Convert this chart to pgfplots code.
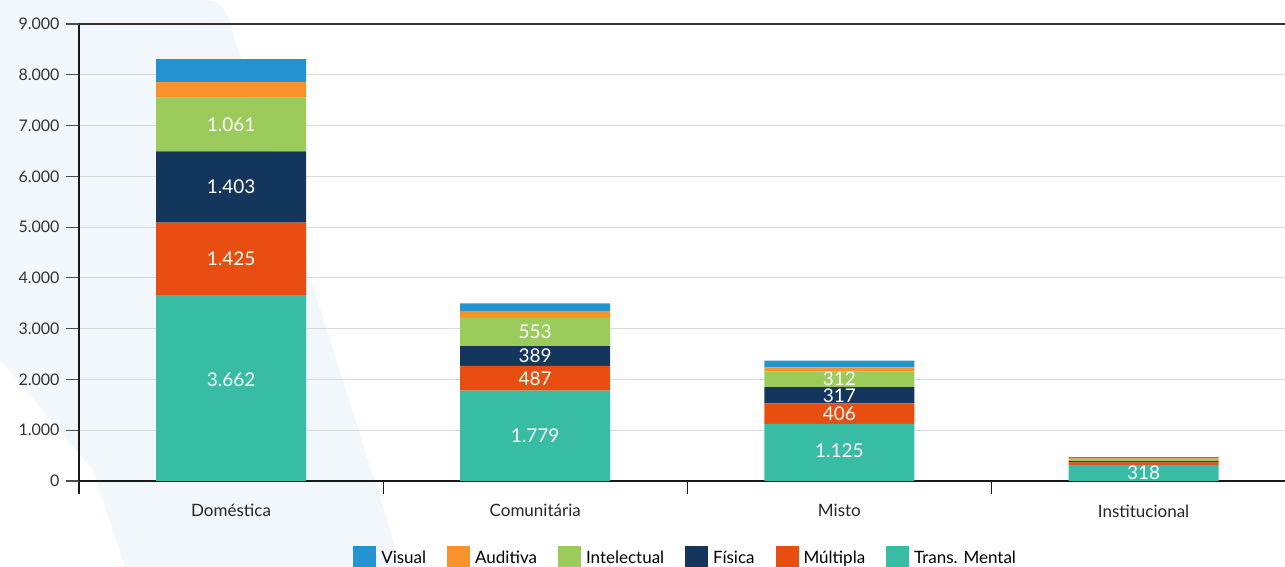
\documentclass[border=0pt]{standalone}
\usepackage{fontspec}
\setmainfont{Lato}
\usepackage{pgfplots}
\pgfplotsset{compat=1.18}
\definecolor{cVis}{HTML}{2394CF}
\definecolor{cAud}{HTML}{F7932A}
\definecolor{cInt}{HTML}{9BCB5A}
\definecolor{cFis}{HTML}{14365C}
\definecolor{cMul}{HTML}{E84E10}
\definecolor{cTM}{HTML}{38BDA4}
\definecolor{band}{HTML}{F2F7FC}
\definecolor{txt}{HTML}{333333}
\pgfplotsset{
  mylegend/.style={legend image code/.code={\fill[##1] (0pt,-10pt) rectangle (23pt,12pt);}},
}
\begin{document}
\begin{tikzpicture}
\useasboundingbox (-79pt,-86pt) rectangle (1206pt,481pt);
\fill[band] (-79pt,481pt) -- (126pt,481pt) .. controls (146pt,481pt) and (152pt,460pt) .. (156pt,441pt)
  -- (323pt,-86pt) -- (46pt,-86pt) -- (14pt,11pt) -- (-79pt,121pt) -- cycle;
\begin{axis}[
  at={(0,0)}, anchor=south west,
  scale only axis, width=1206pt, height=457pt,
  xmin=-0.5, xmax=3.465, ymin=0, ymax=9000,
  ybar stacked, bar width=150pt,
  axis x line*=bottom, axis y line*=left,
  axis line style={line width=1.5pt, color=black!90},
  scaled y ticks=false,
  /pgf/number format/1000 sep={.},
  /pgf/number format/assume math mode=true,
  ytick={0,1000,...,8000},
  extra y ticks={9000},
  extra y tick style={grid style={color=black!80, line width=1.5pt}},
  ymajorgrids, grid style={color=black!15, line width=1pt},
  tick align=outside, major tick length=13pt,
  ytick style={color=black!70, line width=1.2pt},
  yticklabel style={font=\fontsize{16}{19}\selectfont, text=txt, xshift=-3pt},
  xtick={-0.5,0.5,1.5,2.5}, xticklabels={},
  xtick style={color=black!90, line width=1.2pt},
  extra x ticks={0,1,2,3},
  extra x tick labels={Doméstica,Comunitária,Misto,Institucional},
  extra x tick style={major tick length=0pt},
  xticklabel style={font=\fontsize{17}{20}\selectfont, text=black!85, yshift=-20pt},
  legend style={at={(0.503,-0.166)}, anchor=center, draw=none, fill=none,
    legend columns=-1, font=\fontsize{17}{20}\selectfont,
    /tikz/every odd column/.append style={column sep=3pt},
    /tikz/every even column/.append style={column sep=19pt}},
  reverse legend,
]
\addplot[fill=cTM, draw=none, mylegend] coordinates {(0,3662) (1,1779) (2,1125) (3,318)};
\addplot[fill=cMul, draw=none, mylegend] coordinates {(0,1425) (1,487) (2,406) (3,50)};
\addplot[fill=cFis, draw=none, mylegend] coordinates {(0,1403) (1,389) (2,317) (3,25)};
\addplot[fill=cInt, draw=none, mylegend] coordinates {(0,1061) (1,553) (2,312) (3,40)};
\addplot[fill=cAud, draw=none, mylegend] coordinates {(0,305) (1,140) (2,80) (3,15)};
\addplot[fill=cVis, draw=none, mylegend] coordinates {(0,453) (1,150) (2,130) (3,20)};
\legend{Trans. Mental, Múltipla, Física, Intelectual, Auditiva, Visual}
\end{axis}
\begin{axis}[
  at={(0,0)}, anchor=south west,
  scale only axis, width=1206pt, height=457pt,
  xmin=-0.5, xmax=3.465, ymin=0, ymax=9000,
  hide axis, clip=false,
]
\addplot[draw=none, mark=none, point meta=explicit symbolic, nodes near coords,
  nodes near coords align={center},
  every node near coord/.append style={anchor=center, text=white, inner sep=0pt, font=\fontsize{19}{22}\selectfont}]
  coordinates {
  (0,2000)[3.662] (0,4374)[1.425] (0,5788)[1.403] (0,7020)[1.061]
  (1,889)[1.779] (1,2022)[487] (1,2460)[389] (1,2931)[553]
  (2,600)[1.125] (2,1328)[406] (2,1680)[317] (2,2010)[312]
  (3,159)[318]
  };
\end{axis}
\end{tikzpicture}
\end{document}
